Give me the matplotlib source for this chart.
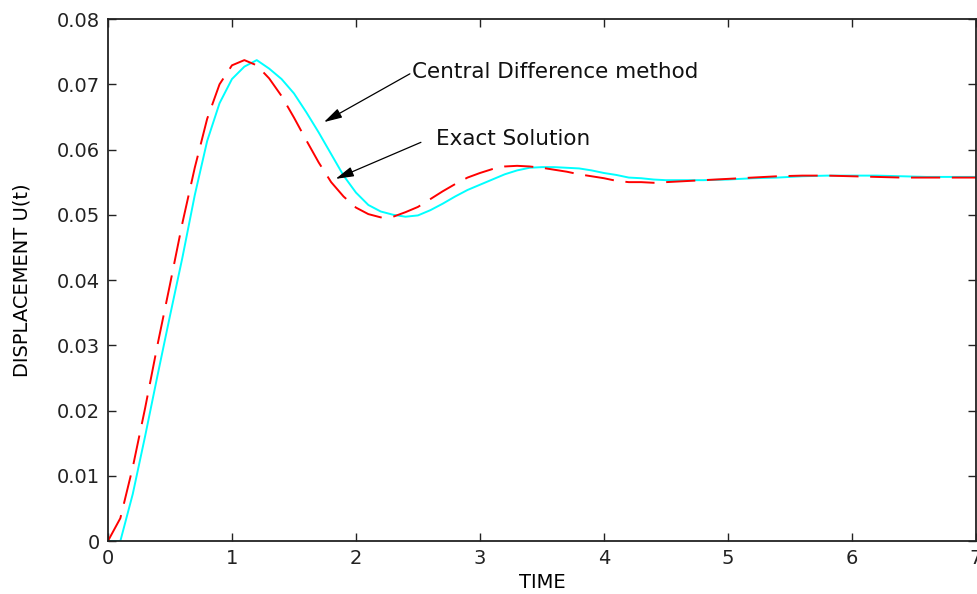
import matplotlib
matplotlib.use("Agg")
import matplotlib.pyplot as plt

# time grid (s) and displacements
time = [0.0, 0.1, 0.2, 0.3, 0.4, 0.5, 0.6, 0.7, 0.8, 0.9,
        1.0, 1.1, 1.2, 1.3, 1.4, 1.5, 1.6, 1.7, 1.8, 1.9,
        2.0, 2.1, 2.2, 2.3, 2.4, 2.5, 2.6, 2.7, 2.8, 2.9,
        3.0, 3.1, 3.2, 3.3, 3.4, 3.5, 3.6, 3.7, 3.8, 3.9,
        4.0, 4.1, 4.2, 4.3, 4.4, 4.5, 4.6, 4.8, 5.0, 5.2,
        5.4, 5.6, 5.8, 6.0, 6.2, 6.4, 6.6, 6.8, 7.0]

exact = [0.0, 0.0035, 0.0113, 0.0204, 0.0301, 0.0393, 0.0487, 0.0572, 0.0647, 0.0700,
         0.0729, 0.0737, 0.0729, 0.0709, 0.0682, 0.0649, 0.0614, 0.0580, 0.0550, 0.0528,
         0.0511, 0.0501, 0.0496, 0.0497, 0.0504, 0.0512, 0.0524, 0.0536, 0.0547, 0.0557,
         0.0564, 0.0570, 0.0574, 0.0575, 0.0574, 0.0572, 0.0569, 0.0566, 0.0562, 0.0559,
         0.0556, 0.0552, 0.0550, 0.0550, 0.0549, 0.0550, 0.0551, 0.0553, 0.0555, 0.0557,
         0.0559, 0.0560, 0.0560, 0.0559, 0.0558, 0.0557, 0.0557, 0.0557, 0.0557]

central_diff = [0.0, 0.0, 0.0072, 0.0161, 0.0254, 0.0345, 0.0434, 0.0530, 0.0613, 0.0671,
                0.0708, 0.0727, 0.0737, 0.0724, 0.0708, 0.0686, 0.0657, 0.0626, 0.0593, 0.0560,
                0.0534, 0.0515, 0.0505, 0.0500, 0.0497, 0.0499, 0.0507, 0.0517, 0.0528, 0.0538,
                0.0546, 0.0554, 0.0562, 0.0568, 0.0572, 0.0573, 0.0573, 0.0572, 0.0571, 0.0568,
                0.0564, 0.0561, 0.0557, 0.0556, 0.0554, 0.0553, 0.0553, 0.0553, 0.0554, 0.0556,
                0.0557, 0.0559, 0.0560, 0.0560, 0.0560, 0.0559, 0.0558, 0.0558, 0.0558]

xticks = [0, 1, 2, 3, 4, 5, 6, 7]
yticks = [0, 0.01, 0.02, 0.03, 0.04, 0.05, 0.06, 0.07, 0.08]
ytick_labels = ["0", "0.01", "0.02", "0.03", "0.04", "0.05", "0.06", "0.07", "0.08"]

# annotation placement (data coords)
cd_text = (2.454, 0.0709)
cd_arrow = ((2.435, 0.0716), (1.742, 0.0642))
ex_text = (2.643, 0.0607)
ex_arrow = ((2.524, 0.0611), (1.836, 0.0555))

plt.rcParams['font.family'] = ['DejaVu Sans']

fig = plt.figure(figsize=(9.77, 5.94), dpi=100)
ax = fig.add_axes([0.1105, 0.0892, 0.8884, 0.8788])

ax.plot(time, central_diff, color='cyan', lw=1.4)
ax.plot(time, exact, color='red', lw=1.4, linestyle=(0, (15, 6)))

ax.set_xlim(0, 7)
ax.set_ylim(0, 0.08)
ax.set_xticks(xticks)
ax.set_yticks(yticks)
ax.set_yticklabels(ytick_labels)

ax.tick_params(direction='in', length=6, width=1, top=True, right=True,
               labelsize=14, pad=6, colors='#222222')
for sp in ax.spines.values():
    sp.set_linewidth(1.3)
    sp.set_color('#222222')

ax.set_xlabel("TIME", fontsize=14, va='top')
ax.xaxis.set_label_coords(0.5, -0.062)
ax.set_ylabel("DISPLACEMENT U(t)", fontsize=14)
ax.yaxis.set_label_coords(-0.088, 0.5)

arrow_props = dict(arrowstyle='-|>,head_length=1.1,head_width=0.3', color='black',
                   lw=0.9, mutation_scale=10, shrinkA=0, shrinkB=0)
ax.annotate("", xy=cd_arrow[1], xytext=cd_arrow[0], arrowprops=arrow_props)
ax.annotate("", xy=ex_arrow[1], xytext=ex_arrow[0], arrowprops=arrow_props)
ax.text(cd_text[0], cd_text[1], "Central Difference method", fontsize=15.5,
        va='baseline', ha='left', color='#111111')
ax.text(ex_text[0], ex_text[1], "Exact Solution", fontsize=15.5,
        va='baseline', ha='left', color='#111111')

fig.savefig("out.png", dpi=100)
